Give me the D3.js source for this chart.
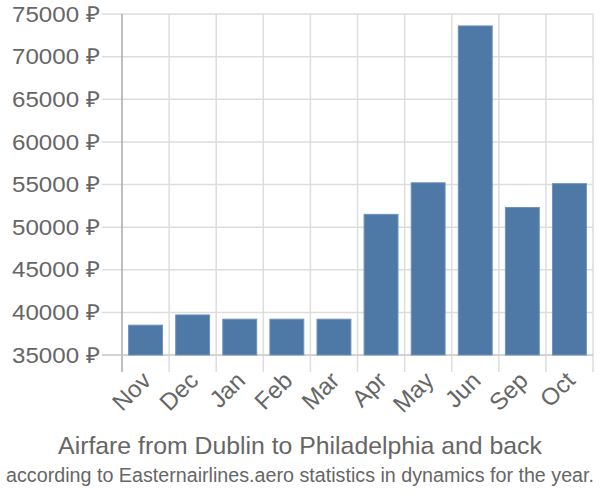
<!DOCTYPE html>
<html><head><meta charset="utf-8">
<script src="https://cdn.jsdelivr.net/npm/d3@7"></script>
<style>body{margin:0;background:#fff}svg{display:block}text{font-family:"Liberation Sans",Arial,sans-serif}</style>
</head><body><svg id="c" width="600" height="500"></svg>
<script>
const categories = ["Nov","Dec","Jan","Feb","Mar","Apr","May","Jun","Sep","Oct"];
const prices = [38500,39700,39200,39200,39200,51500,55200,73600,52300,55100];
const yTicks = [35000,40000,45000,50000,55000,60000,65000,70000,75000];
const title = "Airfare from Dublin to Philadelphia and back";
const subtitle = "according to Easternairlines.aero statistics in dynamics for the year.";

const svg = d3.select("#c");
const L = 122, R = 593, T = 14, B = 355;
const x = d3.scaleBand().domain(categories).range([L, R]).paddingInner(0.28).paddingOuter(0.14);
const y = d3.scaleLinear().domain([35000, 75000]).range([B, T]);
const step = x.step();

// horizontal grid
svg.append("g").selectAll("line").data(yTicks).join("line")
  .attr("x1", L - 20).attr("x2", R).attr("y1", d => y(d)).attr("y2", d => y(d))
  .attr("stroke", "#ddd").attr("stroke-width", 1.5);
// vertical grid
const vx = d3.range(categories.length + 1).map(i => L + i * step);
svg.append("g").selectAll("line").data(vx.slice(1)).join("line")
  .attr("x1", d => d).attr("x2", d => d).attr("y1", T).attr("y2", B + 17)
  .attr("stroke", "#ddd").attr("stroke-width", 1.5);
// left axis line
svg.append("line").attr("x1", L).attr("x2", L).attr("y1", T).attr("y2", B + 17)
  .attr("stroke", "#aaa").attr("stroke-width", 1.5);
// bottom line
svg.append("line").attr("x1", L - 20).attr("x2", R).attr("y1", B).attr("y2", B)
  .attr("stroke", "#ccc").attr("stroke-width", 1.5);

// bars
svg.append("g").selectAll("rect").data(prices).join("rect")
  .attr("x", (d, i) => x(categories[i])).attr("width", x.bandwidth())
  .attr("y", d => y(d)).attr("height", d => B - y(d))
  .attr("fill", "#4e78a6").attr("stroke", "#6e93bd").attr("stroke-width", 1);

// y labels
svg.append("g").selectAll("text").data(yTicks).join("text")
  .attr("x", 100).attr("y", d => y(d)).attr("dy", "0.35em")
  .attr("text-anchor", "end").attr("fill", "#666").attr("font-size", 22)
  .attr("textLength", 88).attr("lengthAdjust", "spacingAndGlyphs")
  .text(d => d + " ₽");

// x labels
svg.append("g").selectAll("text").data(categories).join("text")
  .attr("transform", d => `translate(${x(d) + x.bandwidth() / 2 + 7},${B + 27}) rotate(-45)`)
  .attr("text-anchor", "end").attr("fill", "#666").attr("font-size", 24)
  .text(d => d);

svg.append("text").attr("x", 300).attr("y", 454).attr("text-anchor", "middle")
  .attr("fill", "#666").attr("font-size", 24.8).text(title);
const sub = svg.append("text").attr("text-anchor", "middle")
  .attr("fill", "#666").attr("font-size", 21).text(subtitle);
const w = sub.node().getComputedTextLength();
const sx = Math.min(1, 588 / w);
sub.attr("transform", `translate(300,482) scale(${sx},1)`);
</script></body></html>
